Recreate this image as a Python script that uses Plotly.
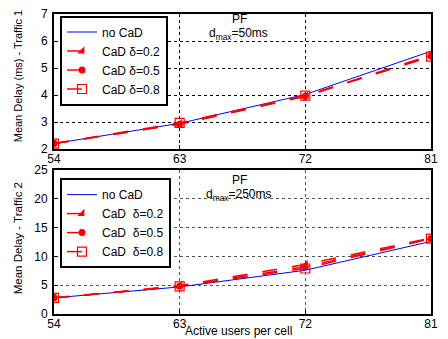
import plotly.graph_objects as go
from plotly.subplots import make_subplots

users = [54, 63, 72, 81]
# Traffic 1 (d_max = 50 ms)
t1_nocad = [2.2, 2.95, 4.02, 5.62]
t1_d02 = [2.2, 2.93, 3.96, 5.48]
t1_d05 = [2.2, 2.92, 3.95, 5.44]
t1_d08 = [2.2, 2.97, 3.98, 5.42]
# Traffic 2 (d_max = 250 ms)
t2_nocad = [2.8, 4.7, 7.6, 12.6]
t2_d02 = [2.8, 4.9, 8.6, 13.2]
t2_d05 = [2.8, 4.8, 8.2, 13.1]
t2_d08 = [2.8, 4.8, 7.9, 13.1]

names = ["no CaD", "CaD δ=0.2", "CaD δ=0.5", "CaD δ=0.8"]
names2 = ["no CaD", "CaD  δ=0.2", "CaD  δ=0.5", "CaD  δ=0.8"]

FONT = "Arial, Liberation Sans, sans-serif"
fig = make_subplots(rows=2, cols=1, vertical_spacing=0.0)

styles = [
    dict(mode="lines", line=dict(color="#0000ff", width=1)),
    dict(mode="lines+markers", line=dict(color="#ff0000", width=1.5, dash="longdash"),
         marker=dict(symbol="triangle-se", size=8, color="#ff0000")),
    dict(mode="lines+markers", line=dict(color="#ff0000", width=1.5, dash="longdash"),
         marker=dict(symbol="circle", size=7, color="#ff0000")),
    dict(mode="lines+markers", line=dict(color="#ff0000", width=1.5, dash="longdash"),
         marker=dict(symbol="square-open", size=9, color="#ff0000", line=dict(width=1.2))),
]

for ys, nm, st in zip([t1_nocad, t1_d02, t1_d05, t1_d08], names, styles):
    fig.add_trace(go.Scatter(x=users, y=ys, name=nm, legend="legend", **st), row=1, col=1)
for ys, nm, st in zip([t2_nocad, t2_d02, t2_d05, t2_d08], names2, styles):
    fig.add_trace(go.Scatter(x=users, y=ys, name=nm, legend="legend2", **st), row=2, col=1)

axis_common = dict(showline=True, linecolor="black", linewidth=2, mirror=True,
                   ticks="inside", ticklen=4, tickcolor="black", automargin=False,
                   ticklabeloverflow="allow",
                   showgrid=True, gridcolor="black", griddash="dot", gridwidth=1,
                   zeroline=False, tickfont=dict(size=12, color="black", family=FONT))

fig.update_xaxes(range=[54, 81], tickvals=users, ticklabelstandoff=-2, **axis_common)
fig.update_yaxes(range=[2, 7], dtick=1, row=1, col=1, ticklabelstandoff=2, **axis_common)
fig.update_yaxes(range=[0, 25], dtick=5, row=2, col=1, ticklabelstandoff=2, **axis_common)
fig.update_yaxes(gridcolor="#555555", row=2, col=1)
fig.update_xaxes(gridcolor="#555555", row=2, col=1)

fig.update_layout(
    width=440, height=331,
    margin=dict(l=46, r=17, t=6, b=25),
    plot_bgcolor="white", paper_bgcolor="white",
    font=dict(family=FONT, size=12, color="black"),
    yaxis=dict(domain=[0.55, 1.0]),
    yaxis2=dict(domain=[0.0, 0.48]),
    legend=dict(x=0.016, y=0.995, xanchor="left", yanchor="top", bordercolor="black",
                borderwidth=2, bgcolor="white", font=dict(size=12, family=FONT),
                tracegroupgap=0, itemwidth=30),
    legend2=dict(x=0.016, y=0.453, xanchor="left", yanchor="top", bordercolor="black",
                 borderwidth=2, bgcolor="white", font=dict(size=12, family=FONT),
                 tracegroupgap=0, itemwidth=30),
    showlegend=True,
)

fig.add_annotation(x=0.49, y=-0.057, xref="paper", yref="paper", text="Active users per cell",
                   showarrow=False, font=dict(size=12, family=FONT), xanchor="center", yanchor="middle")
fig.add_annotation(x=-0.095, y=0.793, xref="paper", yref="paper", text="Mean Delay (ms) - Traffic 1",
                   textangle=-90, showarrow=False, font=dict(size=11, family=FONT),
                   xanchor="center", yanchor="middle")
fig.add_annotation(x=-0.095, y=0.253, xref="paper", yref="paper", text="Mean Delay - Traffic 2",
                   textangle=-90, showarrow=False, font=dict(size=11.5, family=FONT),
                   xanchor="center", yanchor="middle")
fig.add_annotation(x=0.493, y=0.964, xref="x domain", yref="y domain", text="PF", showarrow=False,
                   font=dict(size=12, family=FONT), xanchor="center", yanchor="middle")
fig.add_annotation(x=0.49, y=0.85, xref="x domain", yref="y domain", text="d<sub>max</sub>=50ms", showarrow=False,
                   font=dict(size=12, family=FONT), xanchor="center", yanchor="middle")
fig.add_annotation(x=0.493, y=0.93, xref="x2 domain", yref="y2 domain", text="PF", showarrow=False,
                   font=dict(size=12, family=FONT), xanchor="center", yanchor="middle")
fig.add_annotation(x=0.49, y=0.826, xref="x2 domain", yref="y2 domain", text="d<sub>max</sub>=250ms", showarrow=False,
                   font=dict(size=12, family=FONT), xanchor="center", yanchor="middle")

fig.write_html("out.html")
